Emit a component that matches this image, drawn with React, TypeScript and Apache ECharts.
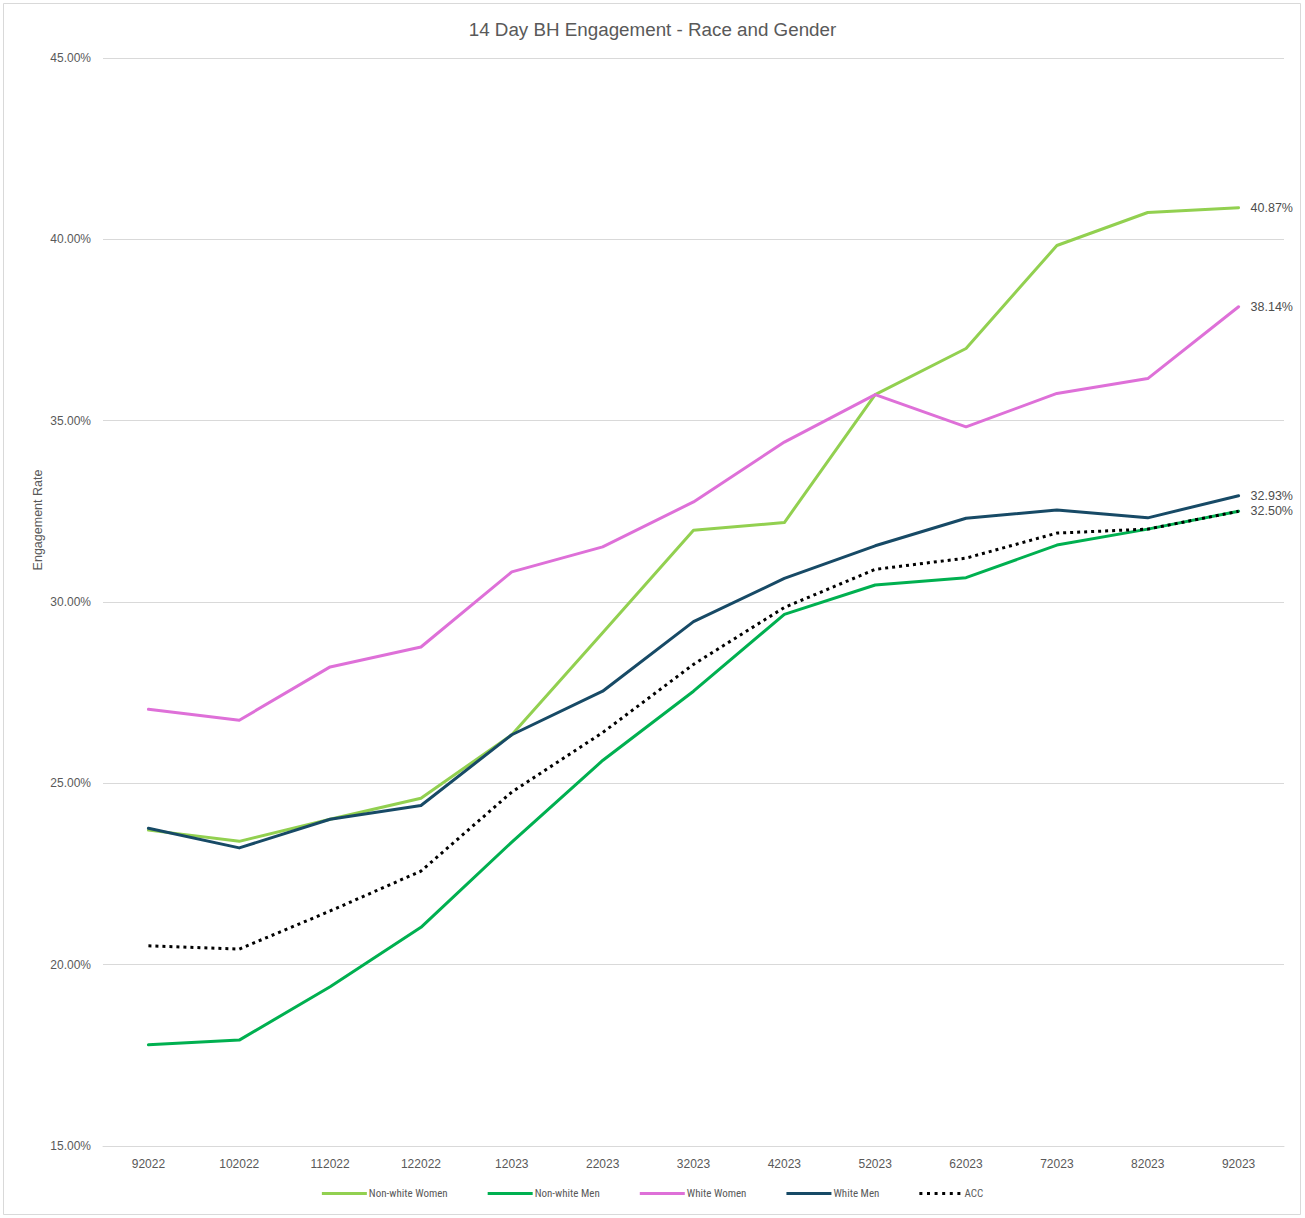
import React, { useEffect, useRef } from "react";
import * as echarts from "echarts";

const categories = ["92022", "102022", "112022", "122022", "12023", "22023", "32023", "42023", "52023", "62023", "72023", "82023", "92023"];
const nonWhiteWomen = [23.71, 23.4, 24.01, 24.59, 26.34, 29.15, 31.98, 32.19, 35.72, 36.99, 39.83, 40.74, 40.87];
const nonWhiteMen = [17.79, 17.92, 19.39, 21.03, 23.38, 25.63, 27.54, 29.66, 30.47, 30.67, 31.57, 32.01, 32.5];
const whiteWomen = [27.04, 26.74, 28.21, 28.76, 30.83, 31.52, 32.76, 34.41, 35.72, 34.83, 35.75, 36.16, 38.14];
const whiteMen = [23.76, 23.22, 24.01, 24.39, 26.34, 27.54, 29.46, 30.65, 31.55, 32.31, 32.54, 32.32, 32.93];
const acc = [20.52, 20.43, 21.48, 22.58, 24.76, 26.4, 28.28, 29.85, 30.9, 31.21, 31.9, 32.01, 32.5];
const yTicks = { min: 15, max: 45, interval: 5 };

const FONT = "'Liberation Sans', Arial, sans-serif";
const GREY = "#595959";
const DOTS_ICON = "path://M0,0h3v3h-3zM7.6,0h3v3h-3zM15.2,0h3v3h-3zM22.8,0h3v3h-3zM30.4,0h3v3h-3zM38,0h3v3h-3z";

export default function App() {
  const ref = useRef<HTMLDivElement>(null);
  useEffect(() => {
    if (!ref.current) return;
    const chart = echarts.init(ref.current, undefined, { renderer: "svg" });
    const mk = (name: string, data: number[], color: string, showLabel: boolean, dotted = false) => ({
      name,
      type: "line",
      data,
      symbol: "none",
      showSymbol: false,
      lineStyle: dotted
        ? { color, width: 3, type: [3, 4], cap: "butt" }
        : { color, width: 3, cap: "round", join: "round" },
      itemStyle: { color },
      endLabel: {
        show: showLabel,
        distance: 12,
        color: "#4D4D4D",
        fontFamily: FONT,
        fontSize: 12.5,
        formatter: (p: any) => Number(p.value).toFixed(2) + "%",
      },
      emphasis: { disabled: true },
    });
    chart.setOption({
      animation: false,
      backgroundColor: "#ffffff",
      title: {
        text: "14 Day BH Engagement - Race and Gender",
        left: "center",
        top: 15,
        textStyle: { fontFamily: FONT, fontSize: 18.8, fontWeight: "normal", color: GREY },
      },
      graphic: [
        {
          type: "rect",
          shape: { x: 3.5, y: 3.5, width: 1297, height: 1211 },
          style: { fill: "none", stroke: "#D9D9D9", lineWidth: 1 },
          silent: true,
        },
        {
          type: "text",
          x: 38,
          y: 520,
          rotation: Math.PI / 2,
          style: {
            text: "Engagement Rate",
            fontFamily: FONT,
            fontSize: 12.5,
            fill: GREY,
            align: "center",
            verticalAlign: "middle",
          },
        },
      ],
      grid: { left: 103, right: 21, top: 58, bottom: 72, containLabel: false },
      legend: {
        bottom: 14,
        left: "center",
        itemWidth: 45,
        itemHeight: 3,
        itemGap: 40,
        textStyle: { fontFamily: "'Roboto Condensed', 'Liberation Sans Narrow', 'Noto Sans', sans-serif", fontSize: 11, color: GREY, padding: [0, 0, 0, -3] },
        data: [
          { name: "Non-white Women", icon: "rect" },
          { name: "Non-white Men", icon: "rect" },
          { name: "White Women", icon: "rect" },
          { name: "White Men", icon: "rect" },
          { name: "ACC", icon: DOTS_ICON },
        ],
      },
      xAxis: {
        type: "category",
        data: categories,
        boundaryGap: true,
        axisLine: { show: true, lineStyle: { color: "#D9D9D9", width: 1 } },
        axisTick: { show: false },
        axisLabel: { color: GREY, fontFamily: FONT, fontSize: 12, margin: 12 },
      },
      yAxis: {
        type: "value",
        min: yTicks.min,
        max: yTicks.max,
        interval: yTicks.interval,
        axisLine: { show: false },
        axisTick: { show: false },
        splitLine: { lineStyle: { color: "#D9D9D9", width: 1 } },
        axisLabel: {
          color: GREY,
          fontFamily: FONT,
          fontSize: 12,
          margin: 12,
          formatter: (v: number) => v.toFixed(2) + "%",
        },
      },
      series: [
        mk("Non-white Women", nonWhiteWomen, "#92D050", true),
        mk("Non-white Men", nonWhiteMen, "#00B050", true),
        mk("White Women", whiteWomen, "#DE70D8", true),
        mk("White Men", whiteMen, "#174A66", true),
        mk("ACC", acc, "#000000", false, true),
      ],
    });
    return () => chart.dispose();
  }, []);
  return (
    <div
      ref={ref}
      style={{ position: "fixed", left: 0, top: 0, width: 1305, height: 1218, background: "#fff" }}
    />
  );
}
